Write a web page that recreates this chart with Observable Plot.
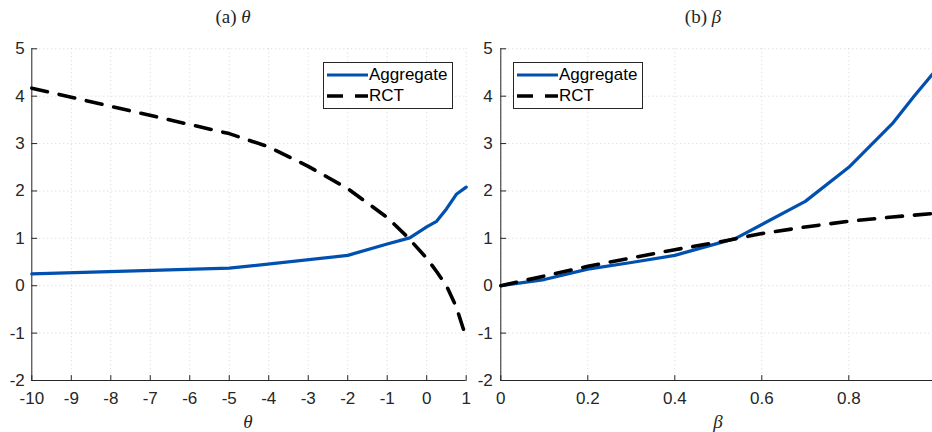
<!DOCTYPE html>
<html><head><meta charset="utf-8">
<script src="https://cdn.jsdelivr.net/npm/d3@7"></script>
<script src="https://cdn.jsdelivr.net/npm/@observablehq/plot@0.6"></script>
<style>
html,body{margin:0;padding:0;background:#fff;overflow:hidden;}
#wrap{position:relative;width:932px;height:432px;overflow:hidden;}
.panel{position:absolute;top:0;}
.ttl{position:absolute;font-family:"Liberation Serif","DejaVu Serif",serif;font-size:19px;color:#262626;white-space:nowrap;transform:translate(-50%,-50%);}
.ttl i{font-style:italic;}
.leg{position:absolute;border:1px solid #262626;background:#fff;box-sizing:border-box;font-family:"Liberation Sans",Arial,sans-serif;font-size:17px;color:#000;}
.leg .row{position:absolute;left:3px;height:20px;display:flex;align-items:center;}
.leg svg{display:block;margin-right:1px;}
</style>
</head><body>
<div id="wrap"></div>
<script>
// Panel (a): theta
const thetaAggX = [-10, -5, -2, -1, -0.43, 0, 0.25, 0.5, 0.75, 1];
const thetaAggY = [0.25, 0.37, 0.64, 0.88, 1.01, 1.24, 1.36, 1.62, 1.93, 2.08];
const thetaRctX = [-10, -5, -4, -3, -2, -1, -0.5, 0, 0.25, 0.5, 0.75, 1];
const thetaRctY = [4.17, 3.21, 2.93, 2.52, 2.05, 1.44, 1.04, 0.58, 0.3, 0.0, -0.45, -1.1];
const thetaTicks = [-10, -9, -8, -7, -6, -5, -4, -3, -2, -1, 0, 1];
// Panel (b): beta
const betaAggX = [0, 0.1, 0.2, 0.3, 0.4, 0.54, 0.7, 0.8, 0.9, 0.95, 1];
const betaAggY = [0, 0.13, 0.35, 0.49, 0.64, 1.0, 1.78, 2.5, 3.42, 4.0, 4.55];
const betaRctX = [0, 0.2, 0.4, 0.5, 0.6, 0.7, 0.8, 0.9, 1];
const betaRctY = [0, 0.41, 0.76, 0.92, 1.1, 1.24, 1.36, 1.45, 1.53];
const betaTicks = [0, 0.2, 0.4, 0.6, 0.8, 1];
const yTicks = [-2, -1, 0, 1, 2, 3, 4, 5];
const seriesNames = ["Aggregate", "RCT"];
const titles = [["(a) ", "θ"], ["(b) ", "β"]];
const axisLabels = ["θ", "β"];

const BLUE = "#0050b0";
const AX = "#262626";
const tickShape = {draw(ctx, l) { ctx.moveTo(0, 0); ctx.lineTo(0, -l); }};

function toRows(xs, ys) { return xs.map((x, i) => ({x, y: ys[i]})); }

function panel({left, width, marginLeft, marginRight, xDomain, xTicks, agg, rct, yPad}) {
  const svg = Plot.plot({
    width, height: 432,
    marginLeft, marginRight, marginTop: 48.3, marginBottom: 52,
    x: {domain: xDomain},
    y: {domain: [-2, 5]},
    style: {fontFamily: "'Liberation Sans', Arial, sans-serif", fontSize: "17px", color: AX, background: "transparent", overflow: "visible"},
    marks: [
      Plot.gridX(xTicks, {stroke: "#d4d4d4", strokeOpacity: 1, strokeDasharray: "1,3"}),
      Plot.gridY(yTicks, {stroke: "#d4d4d4", strokeOpacity: 1, strokeDasharray: "1,3"}),
      Plot.axisX(xTicks, {tickSize: 0, tickPadding: 11, tickFormat: d => String(d), label: null, fontSize: 17, fill: AX}),
      Plot.axisY(yTicks, {tickSize: 0, tickPadding: yPad, tickFormat: d => String(d), label: null, fontSize: 17, fill: AX}),
      Plot.vector(xTicks, {x: d => d, frameAnchor: "bottom", length: 5, rotate: 0, anchor: "start", shape: tickShape, stroke: AX, strokeWidth: 1}),
      Plot.vector(yTicks, {y: d => d, frameAnchor: "left", length: 5, rotate: 90, anchor: "start", shape: tickShape, stroke: AX, strokeWidth: 1}),
      Plot.ruleX([xDomain[0]], {stroke: AX, strokeWidth: 1}),
      Plot.ruleY([-2], {stroke: AX, strokeWidth: 1}),
      Plot.line(agg, {x: "x", y: "y", stroke: BLUE, strokeWidth: 3.2, strokeLinejoin: "round"}),
      Plot.line(rct, {x: "x", y: "y", stroke: "#000", strokeWidth: 3.6, strokeDasharray: "16,12"})
    ]
  });
  svg.classList.add("panel");
  svg.style.left = left + "px";
  return svg;
}

const wrap = document.getElementById("wrap");
wrap.appendChild(panel({left: 0, width: 470, marginLeft: 31.3, marginRight: 4.3,
  xDomain: [-10, 1], xTicks: thetaTicks,
  agg: toRows(thetaAggX, thetaAggY), rct: toRows(thetaRctX, thetaRctY), yPad: 7}));
wrap.appendChild(panel({left: 466, width: 474, marginLeft: 34.3, marginRight: 4.7,
  xDomain: [0, 1], xTicks: betaTicks,
  agg: toRows(betaAggX, betaAggY), rct: toRows(betaRctX, betaRctY), yPad: 8}));

function addText(html, x, y) {
  const d = document.createElement("div");
  d.className = "ttl"; d.innerHTML = html;
  d.style.left = x + "px"; d.style.top = y + "px";
  wrap.appendChild(d);
}
addText(titles[0][0] + "<i>" + titles[0][1] + "</i>", 233, 17);
addText(titles[1][0] + "<i>" + titles[1][1] + "</i>", 703, 17);
addText("<i>" + axisLabels[0] + "</i>", 248, 422);
addText("<i>" + axisLabels[1] + "</i>", 718, 422);

function legend(x) {
  const box = document.createElement("div");
  box.className = "leg";
  Object.assign(box.style, {left: x + "px", top: "61.5px", width: "130px", height: "47px"});
  const rows = [
    {name: seriesNames[0], top: 2, stroke: BLUE, dash: null, w: 3.2},
    {name: seriesNames[1], top: 23, stroke: "#000", dash: "16,12", w: 3.6}
  ];
  for (const r of rows) {
    const row = document.createElement("div");
    row.className = "row"; row.style.top = r.top + "px";
    row.innerHTML = `<svg width="41" height="20"><line x1="0" x2="41" y1="10" y2="10" stroke="${r.stroke}" stroke-width="${r.w}" ${r.dash ? `stroke-dasharray="${r.dash}"` : ""}/></svg><span>${r.name}</span>`;
    box.appendChild(row);
  }
  wrap.appendChild(box);
}
legend(323);
legend(513);
</script>
</body></html>
